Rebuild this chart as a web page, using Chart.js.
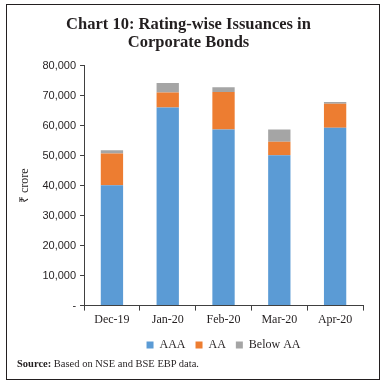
<!DOCTYPE html>
<html>
<head>
<meta charset="utf-8">
<script src="https://cdn.jsdelivr.net/npm/chart.js@4"></script>
<style>
    body { margin: 0; background: #fff; }
    #wrap { position: relative; width: 386px; height: 386px; }
    #frame {
        position: absolute; left: 6px; top: 4px; width: 372px; height: 374px;
        border: 1.6px solid #231f20; pointer-events: none;
    }
    #source {
        position: absolute; left: 17px; top: 358px;
        font: 10.5px "Liberation Serif", serif; color: #231f20; white-space: nowrap;
    }
</style>
</head>
<body>
<div id="wrap">
    <canvas id="chart" width="386" height="386"></canvas>
    <div id="frame"></div>
    <div id="source"><b>Source:</b> Based on NSE and BSE EBP data.</div>
</div>
<script>
const months = ["Dec-19", "Jan-20", "Feb-20", "Mar-20", "Apr-20"];
const aaa = [40200, 66100, 58800, 50200, 59400];
const aa = [10600, 5000, 12500, 4500, 8000];
const belowAA = [1100, 3200, 1600, 4100, 600];

const serif = "'Liberation Serif', serif";
const axisColor = "#404040";

const ctx = document.getElementById("chart").getContext("2d");

new Chart(ctx, {
    type: "bar",
    data: {
        labels: months,
        datasets: [
            { label: "AAA", data: aaa, backgroundColor: "#5b9bd5" },
            { label: "AA", data: aa, backgroundColor: "#ed7d31" },
            { label: "Below AA", data: belowAA, backgroundColor: "#a5a5a5" },
        ],
    },
    options: {
        responsive: false,
        animation: false,
        categoryPercentage: 0.8,
        barPercentage: 0.5,
        layout: { padding: { left: 14, right: 23, top: 5, bottom: 25 } },
        plugins: {
            title: {
                display: true,
                text: ["Chart 10: Rating-wise Issuances in", "Corporate Bonds"],
                color: "#231f20",
                font: { family: serif, size: 16.5, weight: "bold", lineHeight: 1.12 },
                padding: { top: 10, bottom: 14 },
            },
            legend: {
                position: "bottom",
                fullSize: false,
                labels: {
                    boxWidth: 7,
                    boxHeight: 7,
                    padding: 10,
                    color: "#231f20",
                    font: { family: serif, size: 12 },
                },
            },
            tooltip: { enabled: false },
        },
        scales: {
            x: {
                stacked: true,
                grid: { drawOnChartArea: false, color: axisColor, tickLength: 5 },
                border: { color: axisColor, width: 1 },
                ticks: { color: "#231f20", font: { family: serif, size: 12 }, padding: 2 },
            },
            y: {
                stacked: true,
                min: 0,
                max: 80000,
                grid: { drawOnChartArea: false, color: axisColor, tickLength: 4 },
                border: { color: axisColor, width: 1 },
                ticks: {
                    stepSize: 10000,
                    color: "#231f20",
                    padding: 4,
                    font: { family: "'Liberation Sans', sans-serif", size: 11 },
                    callback: (v) => (v === 0 ? "-" : v.toLocaleString("en-US")),
                },
                title: {
                    display: true,
                    text: "₹ crore",
                    color: "#231f20",
                    font: { family: serif, size: 12 },
                    padding: { bottom: 6 },
                },
            },
        },
    },
});
</script>
</body>
</html>
